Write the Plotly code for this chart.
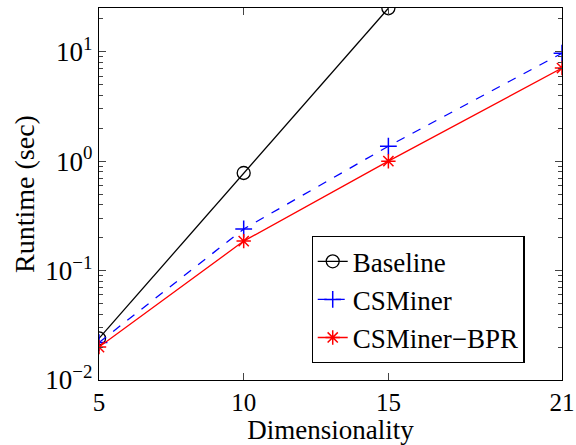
import plotly.graph_objects as go

dims = [5, 10, 15, 21]
baseline = [0.024, 0.78, 25.0]
csminer = [0.022, 0.24, 1.37, 9.7]
csminer_bpr = [0.020, 0.186, 1.0, 7.1]
ytick_vals = [0.01, 0.1, 1, 10]
ytick_text = ["10<sup>\u22122</sup>", "10<sup>\u22121</sup>", "10<sup>0</sup>", "10<sup>1</sup>"]
yminor_vals = [m * 10 ** e for e in (-2, -1, 0, 1) for m in range(2, 10) if m * 10 ** e < 25.2]
xtick_vals = [5, 10, 15, 21]

font = "Liberation Serif, Times New Roman, serif"

fig = go.Figure()
fig.add_trace(go.Scatter(x=dims[:3], y=baseline, name="Baseline", mode="lines+markers",
                         line=dict(color="black", width=1.3),
                         marker=dict(symbol="circle-open", size=13, color="black", line=dict(width=1.3))))
fig.add_trace(go.Scatter(x=dims, y=csminer, name="CSMiner", mode="lines+markers",
                         line=dict(color="blue", width=1.3, dash="dash"),
                         marker=dict(symbol="cross-thin-open", size=12, color="blue", line=dict(width=1.5, color="blue"))))
fig.add_trace(go.Scatter(x=dims, y=csminer_bpr, name="CSMiner\u2212BPR", mode="lines+markers",
                         line=dict(color="red", width=1.3),
                         marker=dict(symbol="asterisk-open", size=12, color="red", line=dict(width=1.5, color="red"))))

fig.update_layout(
    width=576, height=445,
    margin=dict(l=99, r=14, t=8, b=65),
    paper_bgcolor="white", plot_bgcolor="white",
    font=dict(family=font, size=28, color="black"),
    showlegend=True,
    legend=dict(x=0.459, y=0.387, xanchor="left", yanchor="top",
                bordercolor="black", borderwidth=1.2, bgcolor="white",
                font=dict(size=27, family=font), tracegroupgap=0, itemwidth=30),
)
fig.update_xaxes(range=[5, 21], tickvals=xtick_vals, ticks="inside", ticklen=7,
                 showline=True, linecolor="black", linewidth=1.3, mirror="ticks",
                 showgrid=False, zeroline=False, tickfont=dict(size=25), automargin=False,
                 title=dict(text="Dimensionality", standoff=3, font=dict(size=27)))
fig.update_yaxes(type="log", range=[-2, 1.4], tickvals=ytick_vals, ticktext=ytick_text,
                 ticks="inside", ticklen=7, showline=True, linecolor="black", linewidth=1.3,
                 mirror="ticks", showgrid=False, zeroline=False, tickfont=dict(size=27),
                 automargin=False,
                 minor=dict(ticks="inside", ticklen=4, tickvals=yminor_vals, showgrid=False),
                 title=dict(text="Runtime (sec)", standoff=2, font=dict(size=28)))

fig.write_html("out.html")
